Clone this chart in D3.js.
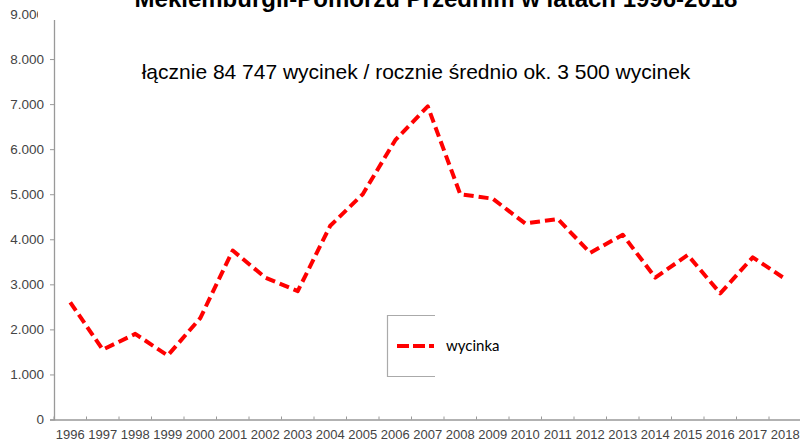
<!DOCTYPE html>
<html>
<head>
<meta charset="utf-8">
<script src="https://cdn.jsdelivr.net/npm/d3@7"></script>
<style>
  body { margin: 0; background: #fff; }
  svg { display: block; }
</style>
</head>
<body>
<svg width="800" height="443"></svg>
<script>
// dane
var years = ["1996","1997","1998","1999","2000","2001","2002","2003","2004","2005","2006","2007",
             "2008","2009","2010","2011","2012","2013","2014","2015","2016","2017","2018"];
var wycinka = [2600, 1550, 1900, 1420, 2250, 3750, 3150, 2850, 4300, 5000, 6200, 6950,
               5000, 4900, 4350, 4450, 3700, 4100, 3150, 3650, 2800, 3600, 3120];
var yTicks = [0, 1000, 2000, 3000, 4000, 5000, 6000, 7000, 8000, 9000];
var seriesName = "wycinka";
var title = "Meklemburgii-Pomorzu Przednim w latach 1996-2018";
var subtitle = "łącznie 84 747 wycinek / rocznie średnio ok. 3 500 wycinek";

var svg = d3.select("svg");
var w = 800, h = 443;

var x = d3.scaleBand().domain(years).range([54, 54 + 23 * 32.5]);
var y = d3.scaleLinear().domain([0, 9000]).range([419.5, 14]);

function fmt(v) {
    return v === 0 ? "0" : d3.format(",")(v).replace(/,/g, ".");
}

// y axis
var yAxis = svg.append("g")
    .attr("transform", "translate(54,0)")
    .call(d3.axisLeft(y).tickValues(yTicks).tickSize(4).tickPadding(6).tickFormat(fmt));
yAxis.select(".domain").attr("stroke", "#999").attr("stroke-width", 1.3);
yAxis.selectAll(".tick line").attr("stroke", "#999");
yAxis.selectAll("text")
    .attr("fill", "#444")
    .style("font-family", "Liberation Sans, Arial, sans-serif")
    .style("font-size", "13.5px");

// x axis
var xAxis = svg.append("g")
    .attr("transform", "translate(0,419.5)")
    .call(d3.axisBottom(x).tickSize(0).tickPadding(10));
xAxis.select(".domain").attr("stroke", "#999").attr("stroke-width", 1.3);
xAxis.selectAll("text")
    .attr("fill", "#444")
    .style("font-family", "Liberation Sans, Arial, sans-serif")
    .style("font-size", "13px");
// band boundary ticks
var bounds = years.map(function (d) { return x(d); });
xAxis.selectAll(".bt")
    .data(bounds).enter()
    .append("line")
    .attr("x1", function (d) { return d; })
    .attr("x2", function (d) { return d; })
    .attr("y1", -3)
    .attr("y2", 0)
    .attr("stroke", "#999");

// line
var line = d3.line()
    .x(function (d, i) { return x(years[i]) + x.bandwidth() / 2; })
    .y(function (d) { return y(d); });

svg.append("path")
    .datum(wycinka)
    .attr("d", line)
    .attr("fill", "none")
    .attr("stroke", "#ff0000")
    .attr("stroke-width", 4)
    .attr("stroke-dasharray", "10,5")
    .attr("stroke-linejoin", "round");

// white cover at top (cut-off label area)
svg.append("rect")
    .attr("x", 38).attr("y", 0)
    .attr("width", w - 38).attr("height", 20)
    .attr("fill", "#fff");

// title (cut off at top, as in the source)
svg.append("text")
    .attr("x", 436)
    .attr("y", 7)
    .attr("text-anchor", "middle")
    .style("font-family", "Liberation Sans, Arial, sans-serif")
    .style("font-weight", "bold")
    .style("font-size", "24px")
    .attr("fill", "#000")
    .text(title);

svg.append("text")
    .attr("x", 416)
    .attr("y", 79)
    .attr("text-anchor", "middle")
    .style("font-family", "Liberation Sans, Arial, sans-serif")
    .style("font-size", "21px")
    .attr("fill", "#000")
    .text(subtitle);

// legend
var lg = svg.append("g");
lg.append("path")
    .attr("d", "M435,315.5 H387.5 V376.5 H435")
    .attr("fill", "none")
    .attr("stroke", "#aaa")
    .attr("stroke-width", 1.2);
lg.append("line")
    .attr("x1", 397).attr("x2", 434)
    .attr("y1", 346).attr("y2", 346)
    .attr("stroke", "#ff0000")
    .attr("stroke-width", 4)
    .attr("stroke-dasharray", "12,4");
lg.append("text")
    .attr("x", 446)
    .attr("y", 351)
    .style("font-family", "Lato, Open Sans, sans-serif")
    .style("font-size", "15px")
    .attr("fill", "#000")
    .text(seriesName);
</script>
</body>
</html>
